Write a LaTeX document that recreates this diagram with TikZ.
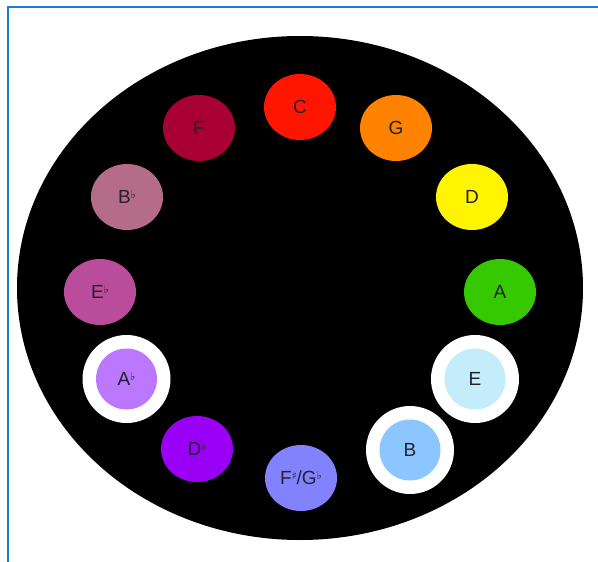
\documentclass[tikz,border=0pt]{standalone}
\usepackage{fontspec}
\setmainfont{Liberation Sans}
\newfontfamily\symfont{DejaVu Sans}
\usetikzlibrary{shapes.geometric}
\definecolor{frameblue}{HTML}{1E7BD8}
\definecolor{txt}{HTML}{22222C}
\definecolor{cC}{HTML}{FF1500}
\definecolor{cG}{HTML}{FF8200}
\definecolor{cD}{HTML}{FFF500}
\definecolor{cA}{HTML}{36C800}
\definecolor{cE}{HTML}{C4ECFA}
\definecolor{cB}{HTML}{8CC6FF}
\definecolor{cFs}{HTML}{8282FF}
\definecolor{cDb}{HTML}{9A00F5}
\definecolor{cAb}{HTML}{BB78FF}
\definecolor{cEb}{HTML}{BA4C9C}
\definecolor{cBb}{HTML}{B46C88}
\definecolor{cF}{HTML}{A80032}
\newcommand{\fl}{\raisebox{0.5ex}{\symfont\fontsize{11}{11}\selectfont ♭}}
\newcommand{\shp}{\raisebox{0.5ex}{\symfont\fontsize{10}{10}\selectfont ♯}}
\tikzset{
  note/.style={ellipse, minimum width=72pt, minimum height=66pt, inner sep=0pt,
    font=\fontsize{19}{19}\selectfont, text=txt},
  ring/.style={circle, fill=white, minimum size=88pt, inner sep=0pt},
  hinote/.style={circle, minimum size=61pt, inner sep=0pt,
    font=\fontsize{19}{19}\selectfont, text=txt},
  wheel/.style={ellipse, fill=black, minimum width=566pt, minimum height=504pt, inner sep=0pt}
}
\begin{document}
\begin{tikzpicture}[x=1pt,y=-1pt]
\useasboundingbox (0,0) rectangle (598,562);
\fill[white] (0,0) rectangle (598,562);
\draw[frameblue, line width=2pt] (7.5,562) -- (7.5,6.5) -- (598,6.5);
\node[wheel] (wheel) at (300,288) {};
\node[note, fill=cC] (C) at (300,107) {C};
\node[note, fill=cG] (G) at (396,128) {G};
\node[note, fill=cD] (D) at (472,197) {D};
\node[note, fill=cA] (A) at (500,292) {A};
\node[ring] (Ering) at (475,379) {};
\node[hinote, fill=cE] (E) at (475,379) {E};
\node[ring] (Bring) at (410,450) {};
\node[hinote, fill=cB] (B) at (410,450) {B};
\node[note, fill=cFs] (Fs) at (301,478) {F\shp/G\fl};
\node[note, fill=cDb] (Db) at (197,449) {D\fl};
\node[ring] (Abring) at (126.5,379) {};
\node[hinote, fill=cAb] (Ab) at (126.5,379) {A\fl};
\node[note, fill=cEb] (Eb) at (100,292) {E\fl};
\node[note, fill=cBb] (Bb) at (127,197) {B\fl};
\node[note, fill=cF] (F) at (199,128) {F};
\end{tikzpicture}
\end{document}
